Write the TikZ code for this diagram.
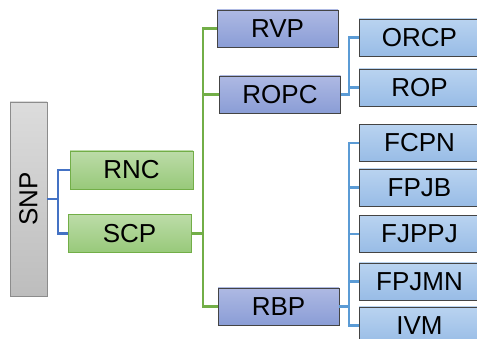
\documentclass[tikz,border=0pt]{standalone}
\usepackage{fontspec}
\setmainfont{Liberation Sans}
\usepackage{tikz}
\usetikzlibrary{calc}

\definecolor{grayline}{HTML}{8C8C8C}
\definecolor{graytop}{HTML}{DCDCDC}
\definecolor{graybot}{HTML}{BDBDBD}
\definecolor{greenline}{HTML}{72AE47}
\definecolor{greentop}{HTML}{BCDCA8}
\definecolor{greenbot}{HTML}{98C97A}
\definecolor{purptop}{HTML}{AEB9E3}
\definecolor{purpbot}{HTML}{8A9DD6}
\definecolor{skytop}{HTML}{B9D3F0}
\definecolor{skybot}{HTML}{98BCE6}
\definecolor{darkline}{HTML}{444444}
\definecolor{linkblue}{HTML}{4472C4}
\definecolor{linksky}{HTML}{5B9BD5}

\tikzset{
  box/.style={draw, line width=0.9pt, inner sep=0pt, anchor=center,
    font=\fontsize{26}{30}\selectfont},
  rootbox/.style={box, draw=grayline, top color=graytop, bottom color=graybot,
    minimum width=194pt, minimum height=37pt, rotate=90},
  greenbox/.style={box, draw=greenline, top color=greentop, bottom color=greenbot,
    minimum width=123pt, minimum height=38pt},
  purpbox/.style={box, draw=darkline, top color=purptop, bottom color=purpbot,
    minimum width=121pt, minimum height=37pt},
  skybox/.style={box, draw=darkline, top color=skytop, bottom color=skybot,
    minimum width=121pt, minimum height=37pt},
  link/.style={line width=2.8pt},
}

\begin{document}
\begin{tikzpicture}[x=1pt, y=-1pt]
    \useasboundingbox (0,0) rectangle (477,339);
    \clip (0,0) rectangle (477,339);

    % livello 1
    \node[rootbox] (snp) at (28.5,199) {SNP};

    % livello 2
    \node[greenbox] (rnc) at (131.5,170) {RNC};
    \node[greenbox] (scp) at (129.5,233.5) {SCP};

    % livello 3
    \node[purpbox] (rvp) at (277.5,28.5) {RVP};
    \node[purpbox] (ropc) at (280,94.5) {ROPC};
    \node[purpbox] (rbp) at (278.5,306.5) {RBP};

    % livello 4
    \node[skybox] (orcp) at (419.5,37.5) {ORCP};
    \node[skybox] (rop) at (419.5,87.5) {ROP};
    \node[skybox] (fcpn) at (419.5,143) {FCPN};
    \node[skybox] (fpjb) at (419.5,187.5) {FPJB};
    \node[skybox] (fjppj) at (419.5,234) {FJPPJ};
    \node[skybox] (fpjmn) at (419.5,281.5) {FPJMN};
    \node[skybox] (ivm) at (419.5,325.5) {IVM};

    % snodi
    \coordinate (jsnp) at (58,199);
    \coordinate (jscp) at (203,233.5);
    \coordinate (jropc) at (349,94.5);
    \coordinate (jrbp) at (349,306.5);

    % collegamenti SNP
    \draw[link, linkblue] (snp.south) -- (jsnp) |- (rnc.west);
    \draw[link, linkblue] (jsnp) |- (scp.west);

    % collegamenti SCP
    \draw[link, greenline] (scp.east) -- (jscp) |- (rvp.west);
    \draw[link, greenline] (jscp) |- (ropc.west);
    \draw[link, greenline] (jscp) |- (rbp.west);

    % collegamenti ROPC
    \draw[link, linksky] (ropc.east) -- (jropc) |- (orcp.west);
    \draw[link, linksky] (jropc) |- (rop.west);

    % collegamenti RBP
    \draw[link, linksky] (rbp.east) -- (jrbp) |- (fcpn.west);
    \draw[link, linksky] (jrbp) |- (fpjb.west);
    \draw[link, linksky] (jrbp) |- (fjppj.west);
    \draw[link, linksky] (jrbp) |- (fpjmn.west);
    \draw[link, linksky] (jrbp) |- (ivm.west);
\end{tikzpicture}
\end{document}
